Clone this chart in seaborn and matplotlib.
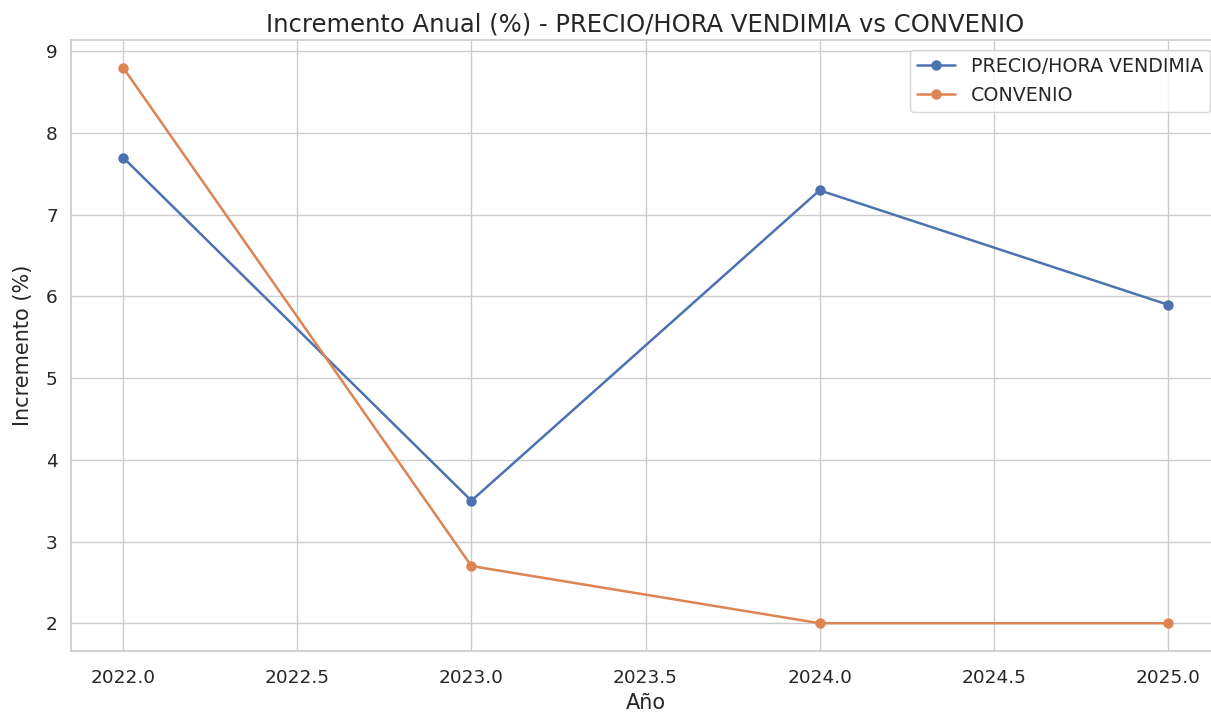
import matplotlib
matplotlib.use("Agg")
import matplotlib.pyplot as plt
import seaborn as sns
import pandas as pd

years = [2022, 2023, 2024, 2025]
precio_hora = [7.7, 3.5, 7.3, 5.9]
convenio = [8.8, 2.7, 2.0, 2.0]
series_names = ["PRECIO/HORA VENDIMIA", "CONVENIO"]

df = pd.DataFrame({
    "Año": years * 2,
    "Incremento (%)": precio_hora + convenio,
    "Serie": [series_names[0]] * len(years) + [series_names[1]] * len(years),
})

sns.set_theme(style="whitegrid")
fig = plt.figure(figsize=(12.11, 7.13), dpi=100)
ax = fig.add_axes([71 / 1211, 62 / 713, (1220 - 71) / 1211, (651 - 40) / 713])
sns.lineplot(data=df, x="Año", y="Incremento (%)", hue="Serie", marker="o",
             markeredgewidth=0, markersize=7.5, linewidth=1.8, ax=ax)
ax.set_title("Incremento Anual (%) - PRECIO/HORA VENDIMIA vs CONVENIO", fontsize=17.5, pad=6)
ax.set_xlabel("Año", fontsize=15, labelpad=4)
ax.set_ylabel("Incremento (%)", fontsize=15, labelpad=9)
ax.tick_params(labelsize=13.3)
ax.tick_params(axis="x", pad=7)
ax.legend(title=None, loc="upper right", fontsize=13.7, bbox_to_anchor=(1.0, 1.0))
fig.savefig("out.png", dpi=100)
